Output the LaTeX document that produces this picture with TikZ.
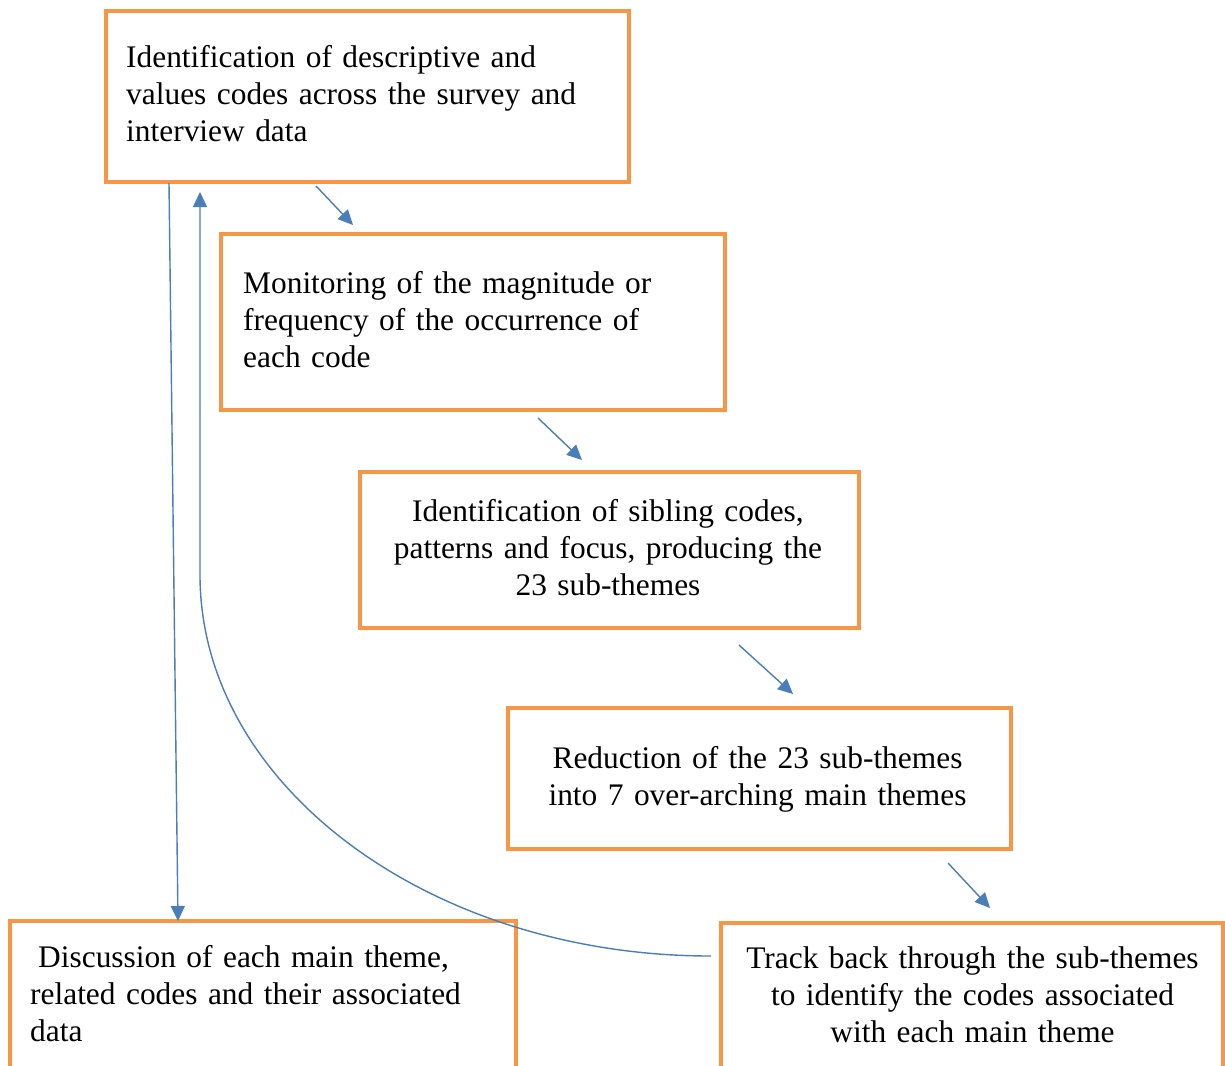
\documentclass[tikz,border=0pt]{standalone}
\usepackage{fontspec}
\setmainfont{Liberation Serif}
\usetikzlibrary{arrows.meta,calc}
\definecolor{boxorange}{HTML}{F79646}
\definecolor{arrblue}{HTML}{4A7EBB}
\begin{document}
\begin{tikzpicture}[x=1pt,y=-1pt,
  box/.style={draw=boxorange, line width=4pt, inner sep=0pt, rectangle},
  txtl/.style={font=\fontsize{31.4}{37.2}\selectfont, inner sep=0pt, align=left, anchor=base west},
  txtc/.style={font=\fontsize{31.4}{37.2}\selectfont, inner sep=0pt, align=center, anchor=base},
  arr/.style={draw=arrblue, line width=1.4pt, -{Triangle[length=15pt,width=14pt]}}]
\useasboundingbox (0,0) rectangle (1225,1065);
\clip (0,0) rectangle (1225,1065);
% boxes
\node[box, minimum width=523pt, minimum height=171pt] (b1) at (367.5,96.5) {};
\node[box, minimum width=504pt, minimum height=176pt] (b2) at (473,322) {};
\node[box, minimum width=499pt, minimum height=156pt] (b3) at (609.5,550) {};
\node[box, minimum width=503pt, minimum height=141pt] (b4) at (759.5,778.5) {};
\node[box, minimum width=506pt, minimum height=179pt] (b5) at (263,1010.5) {};
\node[box, minimum width=502pt, minimum height=177pt] (b6) at (972,1011.5) {};
% texts
\node[txtl, text width=500pt] (t1) at (126,67.5) {Identification of descriptive and\\values codes across the survey and\\interview data};
\node[txtl, text width=480pt] (t2) at (243,293.5) {Monitoring of the magnitude or\\frequency of the occurrence of\\each code};
\node[txtc, text width=480pt] (t3) at (608,521.5) {Identification of sibling codes,\\patterns and focus, producing the\\23 sub-themes};
\node[txtc, text width=480pt] (t4) at (757.5,768.5) {Reduction of the 23 sub-themes\\into 7 over-arching main themes};
\node[txtl, text width=490pt] (t5) at (30,967.5) {\hspace*{8pt}Discussion of each main theme,\\related codes and their associated\\data};
\node[txtc, text width=490pt] (t6) at (972.5,968.5) {Track back through the sub-themes\\to identify the codes associated\\with each main theme};
% connector end points
\coordinate (a1s) at (316,186); \coordinate (a1e) at (353,225);
\coordinate (a2s) at (538,418); \coordinate (a2e) at (582,460);
\coordinate (a3s) at (739,645); \coordinate (a3e) at (793,694);
\coordinate (a4s) at (948,863); \coordinate (a4e) at (990,908);
\coordinate (ds) at (169,183); \coordinate (de) at (178,921);
\coordinate (cs) at (711,956); \coordinate (cm) at (200,575); \coordinate (ce) at (200,192);
% connectors
\draw[arr] (a1s) -- (a1e);
\draw[arr] (a2s) -- (a2e);
\draw[arr] (a3s) -- (a3e);
\draw[arr] (a4s) -- (a4e);
\draw[arr] (ds) -- (de);
\draw[arr] (cs) .. controls (429,956) and (200,785) .. (cm) -- (ce);
\end{tikzpicture}
\end{document}
